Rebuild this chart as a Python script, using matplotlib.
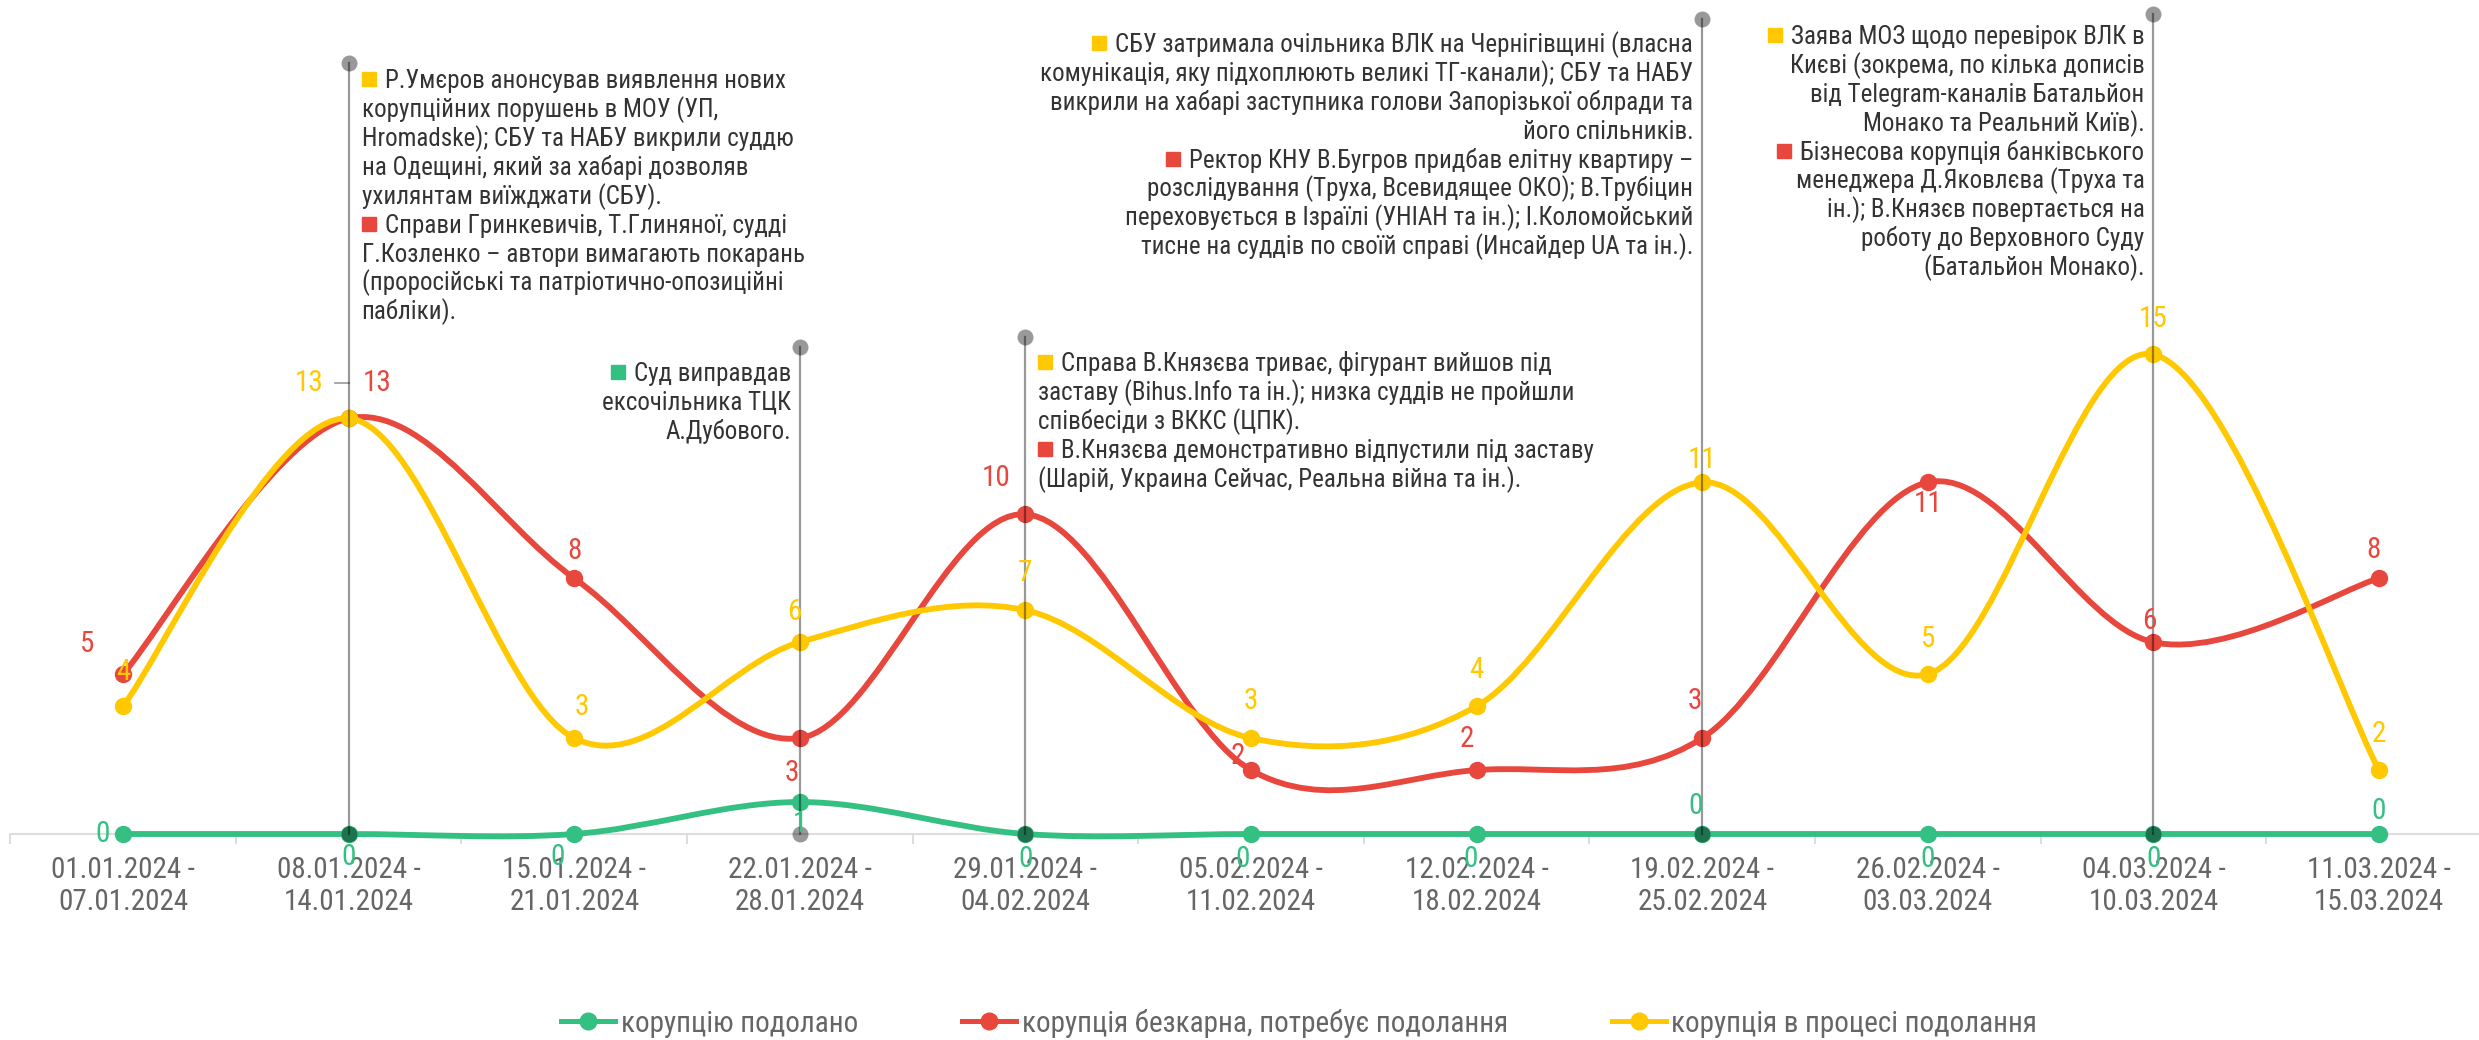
import numpy as np
import matplotlib
matplotlib.use("Agg")
import matplotlib.pyplot as plt
from matplotlib import font_manager
from matplotlib.path import Path
from matplotlib.patches import PathPatch, Rectangle
from matplotlib.lines import Line2D
from matplotlib.transforms import offset_copy, IdentityTransform

# pick a condensed font if one is around
avail = {f.name for f in font_manager.fontManager.ttflist}
FONT = next((f for f in ['Roboto Condensed', 'Liberation Sans Narrow', 'Roboto'] if f in avail), 'DejaVu Sans')
plt.rcParams['font.family'] = [FONT, 'DejaVu Sans']

# ---- data ----
weeks = ['01.01.2024 -\n07.01.2024', '08.01.2024 -\n14.01.2024', '15.01.2024 -\n21.01.2024',
         '22.01.2024 -\n28.01.2024', '29.01.2024 -\n04.02.2024', '05.02.2024 -\n11.02.2024',
         '12.02.2024 -\n18.02.2024', '19.02.2024 -\n25.02.2024', '26.02.2024 -\n03.03.2024',
         '04.03.2024 -\n10.03.2024', '11.03.2024 -\n15.03.2024']
overcome = [0, 0, 0, 1, 0, 0, 0, 0, 0, 0, 0]
unpunished = [5, 13, 8, 3, 10, 2, 2, 3, 11, 6, 8]
in_progress = [4, 13, 3, 6, 7, 3, 4, 11, 5, 15, 2]
series_names = ['корупцію подолано', 'корупція безкарна, потребує подолання', 'корупція в процесі подолання']

GREEN, RED, YELLOW = '#34bf83', '#e8473e', '#ffc800'
colors = [GREEN, RED, YELLOW]

# label offsets (pixels) so labels don't collide, like the original
lbl_off = [
    [(-20, 0), (0, -23), (-17, -23), (0, -22), (0, -25), (-8, -25), (-6, -25), (-7, 28), (0, -25), (0, -25), (0, 23)],
    [(-36, 30), (29, 35), (0, 27), (-8, -35), (-29, 36), (-13, 14), (-10, 31), (-7, 37), (0, -22), (-4, 21), (-6, 28)],
    [(0, 34), (-39, 35), (8, 31), (-5, 30), (0, 37), (0, 37), (0, 36), (0, 22), (0, 35), (0, 35), (0, 36)],
]

# event notes: (square colour, text line) pairs
notes = [
    [(YELLOW, 'Р.Умєров анонсував виявлення нових'), (None, 'корупційних порушень в МОУ (УП,'),
     (None, 'Hromadske); СБУ та НАБУ викрили суддю'), (None, 'на Одещині, який за хабарі дозволяв'),
     (None, 'ухилянтам виїжджати (СБУ).'), (RED, 'Справи Гринкевичів, Т.Глиняної, судді'),
     (None, 'Г.Козленко – автори вимагають покарань'), (None, '(проросійські та патріотично-опозиційні'),
     (None, 'пабліки).')],
    [(GREEN, 'Суд виправдав'), (None, 'ексочільника ТЦК'), (None, 'А.Дубового.')],
    [(YELLOW, 'Справа В.Князєва триває, фігурант вийшов під'),
     (None, 'заставу (Bihus.Info та ін.); низка суддів не пройшли'), (None, 'співбесіди з ВККС (ЦПК).'),
     (RED, 'В.Князєва демонстративно відпустили під заставу'),
     (None, '(Шарій, Украина Сейчас, Реальна війна та ін.).')],
    [(YELLOW, 'СБУ затримала очільника ВЛК на Чернігівщині (власна'),
     (None, 'комунікація, яку підхоплюють великі ТГ-канали); СБУ та НАБУ'),
     (None, 'викрили на хабарі заступника голови Запорізької облради та'), (None, 'його спільників.'),
     (RED, 'Ректор КНУ В.Бугров придбав елітну квартиру –'),
     (None, 'розслідування (Труха, Всевидящее ОКО); В.Трубіцин'),
     (None, 'переховується в Ізраїлі (УНІАН та ін.); І.Коломойський'),
     (None, 'тисне на суддів по своїй справі (Инсайдер UA та ін.).')],
    [(YELLOW, 'Заява МОЗ щодо перевірок ВЛК в'), (None, 'Києві (зокрема, по кілька дописів'),
     (None, 'від Telegram-каналів Батальйон'), (None, 'Монако та Реальний Київ).'),
     (RED, 'Бізнесова корупція банківського'), (None, 'менеджера Д.Яковлєва (Труха та'),
     (None, 'ін.); В.Князєв повертається на'), (None, 'роботу до Верховного Суду'), (None, '(Батальйон Монако).')],
]
note_x = [1, 3, 4, 7, 9]
note_top = [24.12, 15.23, 15.55, 25.49, 25.65]
note_base = [23.33, 14.17, 14.48, 24.46, 24.71]
note_side = ['left', 'right', 'left', 'right', 'right']

# ---- figure ----
W, H, DPI = 2479, 1040, 100
fig = plt.figure(figsize=(W / DPI, H / DPI), dpi=DPI)
y0 = 834  # pixel row of the zero line
unit = 31.97
step = 225.6
left_px = 123 - step / 2
ax = fig.add_axes([left_px / W, 1 - y0 / H, (W - left_px) / W, y0 / H])

for s in ['top', 'left', 'right']:
    ax.spines[s].set_visible(False)
ax.spines['bottom'].set_color('#dddddd')
ax.spines['bottom'].set_linewidth(1.5)
ax.set_yticks([])
ax.set_xticks(range(len(weeks)))
ax.set_xticklabels(weeks, fontsize=21, color='#666666', linespacing=1.15)
ax.tick_params(axis='x', which='major', length=0, pad=16)
ax.set_xticks(np.arange(-0.5, len(weeks) - 1, 1), minor=True)
ax.tick_params(axis='x', which='minor', length=7, width=1.5, color='#dddddd')
# limits after ticks, set_xticks would widen them otherwise
ax.set_xlim(-0.5, -0.5 + (W - left_px) / step)
ax.set_ylim(0, y0 / unit)


def smooth(xs, ys):
    # Catmull-Rom style bezier through the points
    n = len(xs)
    verts = [(xs[0], ys[0])]
    codes = [Path.MOVETO]
    for i in range(n - 1):
        a = i - 1 if i > 0 else i
        d = i + 2 if i + 2 < n else i + 1
        c1 = (xs[i] + (xs[i + 1] - xs[a]) / 6, ys[i] + (ys[i + 1] - ys[a]) / 6)
        c2 = (xs[i + 1] - (xs[d] - xs[i]) / 6, ys[i + 1] - (ys[d] - ys[i]) / 6)
        verts += [c1, c2, (xs[i + 1], ys[i + 1])]
        codes += [Path.CURVE4] * 3
    return Path(verts, codes)


xs = np.arange(len(weeks))
for k, vals in enumerate([overcome, unpunished, in_progress]):
    ax.add_patch(PathPatch(smooth(xs, vals), fill=False, edgecolor=colors[k], lw=4.2,
                           capstyle='round', joinstyle='round', clip_on=False, zorder=3 + k))
    ax.plot(xs, vals, 'o', color=colors[k], ms=11.5, clip_on=False, zorder=3 + k)
    for i, v in enumerate(vals):
        dx, dy = lbl_off[k][i]
        ax.annotate(str(v), (i, v), xytext=(dx, dy), textcoords='offset pixels',
                    ha='center', va='center', fontsize=21, color=colors[k], zorder=10)

# event lines
for j, xj in enumerate(note_x):
    ax.plot([xj, xj], [0, note_top[j]], color='black', alpha=0.4, lw=1.6, clip_on=False, zorder=8)
    ax.plot([xj, xj], [0, note_top[j]], 'o', color='black', alpha=0.4, ms=11.5, mew=0,
            clip_on=False, zorder=8)
# little leader from the shifted "13"
ax.plot([1 - 14 / step, 1], [(y0 - 383) / unit] * 2, color='black', alpha=0.4, lw=1.2, zorder=8)

LH = 28.9
texts = []
for j, lines in enumerate(notes):
    for i, (sq, line) in enumerate(lines):
        if note_side[j] == 'left':
            dx = 36 if sq else 13
            ha = 'left'
        else:
            dx = -9
            ha = 'right'
        tr = offset_copy(ax.transData, fig=fig, x=dx, y=-i * LH, units='dots')
        t = ax.text(note_x[j], note_base[j], line, transform=tr, ha=ha, va='baseline',
                    fontsize=18, color='#333333', zorder=9)
        if sq:
            base_px = ax.transData.transform((note_x[j], note_base[j]))[1] - i * LH
            texts.append((t, sq, base_px))

fig.canvas.draw()
rend = fig.canvas.get_renderer()
for t, sq, base_px in texts:
    bb = t.get_window_extent(rend)
    fig.add_artist(Rectangle((bb.x0 - 9 - 14, base_px + 2), 14, 14, color=sq,
                             transform=IdentityTransform()))

handles = [Line2D([], [], color=c, lw=3.6, marker='o', ms=12) for c in colors]
fig.legend(handles, series_names, loc='center left', bbox_to_anchor=(561 / W, 1 - 1023 / H),
           ncol=3, frameon=False, fontsize=21, handlelength=1.85, handletextpad=0.2,
           columnspacing=3.56, borderpad=0, borderaxespad=0, labelcolor='#666666')

fig.savefig('out.png', dpi=DPI, facecolor='white')
